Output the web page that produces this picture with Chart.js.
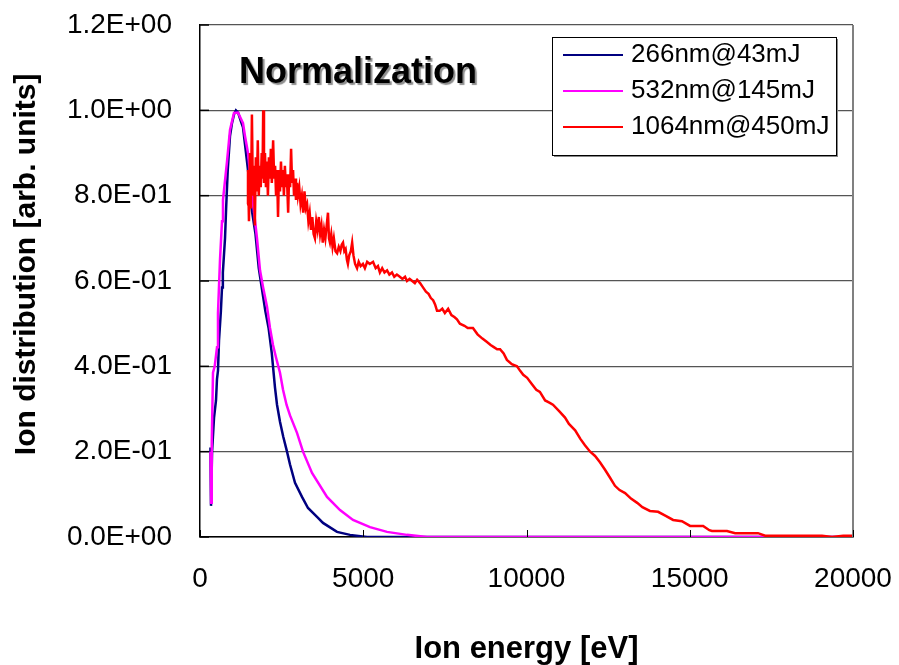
<!DOCTYPE html>
<html>
<head>
<meta charset="utf-8">
<script src="https://cdn.jsdelivr.net/npm/chart.js@4/dist/chart.umd.min.js"></script>
<style>
  html, body { margin: 0; padding: 0; background: #fff; }
  #wrap { width: 899px; height: 665px; }
</style>
</head>
<body>
<div id="wrap"><canvas id="c" width="899" height="665"></canvas></div>
<script>
// Ion energy [eV] and normalized ion distribution
const e266 = [320, 337, 370, 430, 490, 520, 551, 582, 640, 674, 700, 766, 800, 850, 919, 980, 1041, 1100, 1164, 1250, 1317, 1378, 1440, 1500, 1532, 1600, 1700, 1800, 1900, 2000, 2100, 2200, 2236, 2297, 2359, 2450, 2550, 2665, 2757, 2910, 3124, 3308, 3584, 3767, 4196, 4594, 5115, 20000];
const v266 = [0.21, 0.073, 0.20, 0.28, 0.32, 0.37, 0.39, 0.46, 0.53, 0.585, 0.62, 0.70, 0.77, 0.86, 0.94, 0.97, 0.99, 1.0, 0.995, 0.975, 0.96, 0.92, 0.88, 0.84, 0.80, 0.76, 0.71, 0.63, 0.58, 0.53, 0.49, 0.43, 0.40, 0.35, 0.31, 0.27, 0.235, 0.20, 0.17, 0.127, 0.094, 0.068, 0.047, 0.033, 0.012, 0.005, 0.0, 0.0];

const e532 = [320, 340, 360, 398, 450, 521, 551, 613, 674, 704, 827, 919, 1041, 1164, 1317, 1378, 1470, 1532, 1600, 1746, 1838, 1930, 2052, 2144, 2236, 2330, 2450, 2543, 2650, 2757, 2971, 3155, 3431, 3890, 4288, 4686, 5207, 5728, 6340, 6953, 20000];
const v532 = [0.20, 0.08, 0.22, 0.385, 0.40, 0.445, 0.525, 0.65, 0.74, 0.79, 0.88, 0.954, 0.994, 0.995, 0.97, 0.94, 0.90, 0.853, 0.80, 0.70, 0.625, 0.586, 0.54, 0.49, 0.45, 0.42, 0.385, 0.345, 0.31, 0.285, 0.244, 0.20, 0.15, 0.094, 0.063, 0.04, 0.023, 0.012, 0.005, 0.0, 0.0];

const e1064 = [1440, 1470, 1500, 1530, 1560, 1590, 1620, 1650, 1680, 1710, 1740, 1770, 1800, 1830, 1860, 1890, 1915, 1935, 1960, 1990,
  2020, 2050, 2080, 2110, 2140, 2170, 2200, 2240, 2270, 2300, 2330, 2360, 2390, 2420, 2450, 2480, 2510, 2540, 2570, 2600,
  2630, 2660, 2700, 2730, 2760, 2790, 2820, 2850, 2880, 2910, 2940, 2970, 3000, 3040, 3080, 3120, 3160, 3200, 3240, 3280,
  3320, 3360, 3400, 3440, 3480, 3520, 3560, 3600, 3640, 3680, 3720, 3760, 3800, 3840, 3880, 3920, 3950, 3980, 4020, 4060,
  4100, 4150, 4200, 4250, 4300, 4340, 4380, 4420, 4460, 4500, 4530, 4570, 4620, 4660, 4700, 4750, 4810, 4860, 4920, 4990,
  5050, 5120, 5200, 5300, 5380, 5450, 5510, 5580, 5650, 5730, 5800, 5880, 5950, 6030, 6120, 6200, 6280, 6340, 6420, 6500,
  6580, 6650, 6740, 6830, 6920, 7000, 7070, 7140, 7200, 7260, 7340, 7420, 7500, 7600, 7700, 7800, 7870, 7960, 8100, 8200,
  8360, 8500, 8650, 8790, 8900, 9000, 9100, 9190, 9300, 9400, 9550, 9710, 9800, 9900, 10020, 10150, 10300, 10410, 10570, 10700,
  10810, 11000, 11180, 11300, 11490, 11650, 11790, 11950, 12100, 12250, 12410, 12550, 12710, 12850, 13020, 13200, 13390, 13550, 13780, 14030,
  14250, 14490, 14760, 15010, 15410, 15600, 15680, 16140, 16390, 17090, 17310, 19050, 19360, 19700, 20000];
const v1064 = [0.78, 0.86, 0.74, 0.90, 0.77, 0.99, 0.80, 0.87, 0.73, 0.89, 0.81, 0.93, 0.80, 0.87, 0.82, 0.90, 0.84, 1.0, 0.83, 0.90,
  0.82, 0.88, 0.80, 0.89, 0.84, 0.91, 0.83, 0.93, 0.84, 0.87, 0.80, 0.86, 0.75, 0.86, 0.81, 0.88, 0.82, 0.86, 0.80, 0.87,
  0.82, 0.85, 0.76, 0.85, 0.82, 0.91, 0.83, 0.86, 0.80, 0.84, 0.79, 0.83, 0.80, 0.82, 0.78, 0.80, 0.76, 0.81, 0.77, 0.78,
  0.74, 0.76, 0.72, 0.75, 0.71, 0.70, 0.74, 0.72, 0.75, 0.71, 0.73, 0.69, 0.72, 0.70, 0.73, 0.76, 0.70, 0.69, 0.71, 0.68,
  0.70, 0.67, 0.665, 0.68, 0.67, 0.685, 0.69, 0.67, 0.675, 0.65, 0.64, 0.66, 0.67, 0.69, 0.66, 0.64, 0.63, 0.645, 0.635, 0.64,
  0.63, 0.645, 0.64, 0.645, 0.63, 0.635, 0.62, 0.63, 0.62, 0.625, 0.615, 0.62, 0.61, 0.615, 0.61, 0.605, 0.61, 0.60, 0.605, 0.60,
  0.595, 0.603, 0.595, 0.585, 0.575, 0.57, 0.56, 0.555, 0.545, 0.53, 0.53, 0.535, 0.525, 0.535, 0.52, 0.515, 0.51, 0.50, 0.495, 0.49,
  0.49, 0.475, 0.465, 0.457, 0.45, 0.445, 0.44, 0.44, 0.43, 0.415, 0.405, 0.40, 0.39, 0.38, 0.373, 0.36, 0.345, 0.34, 0.32, 0.315,
  0.31, 0.295, 0.28, 0.265, 0.25, 0.23, 0.215, 0.20, 0.19, 0.175, 0.157, 0.14, 0.12, 0.11, 0.103, 0.09, 0.08, 0.07, 0.061, 0.059,
  0.05, 0.04, 0.037, 0.026, 0.026, 0.016, 0.014, 0.014, 0.009, 0.009, 0.003, 0.003, 0.0, 0.003, 0.003];

const seriesNames = ['266nm@43mJ', '532nm@145mJ', '1064nm@450mJ'];
const seriesColors = ['#000080', '#ff00ff', '#ff0000'];
const xTicks = [0, 5000, 10000, 15000, 20000];
const yTicks = [0, 0.2, 0.4, 0.6, 0.8, 1.0, 1.2];

const FONT = '"Liberation Sans", Arial, sans-serif';

function pts(xs, ys) {
  return xs.map((x, i) => ({ x: x, y: ys[i] }));
}

function sci(v) {
  if (Math.abs(v) < 1e-9) return '0.0E+00';
  let exp = Math.floor(Math.log10(Math.abs(v)) + 1e-9);
  let mant = v / Math.pow(10, exp);
  let sign = exp < 0 ? '-' : '+';
  let e = String(Math.abs(exp)).padStart(2, '0');
  return mant.toFixed(1) + 'E' + sign + e;
}

// frame, inner tick marks, title text and boxed legend
const decor = {
  id: 'decor',
  afterDatasetsDraw(chart) {
    const ctx = chart.ctx;
    const a = chart.chartArea;
    const xs = chart.scales.x, ys = chart.scales.y;
    ctx.save();
    // right border
    ctx.strokeStyle = '#808080';
    ctx.lineWidth = 2;
    ctx.beginPath();
    ctx.moveTo(a.right, a.top);
    ctx.lineTo(a.right, a.bottom);
    ctx.stroke();
    // small inner ticks
    ctx.strokeStyle = '#000';
    ctx.lineWidth = 1;
    xTicks.forEach(t => {
      const px = Math.round(xs.getPixelForValue(t)) + 0.5;
      ctx.beginPath();
      ctx.moveTo(px, a.bottom);
      ctx.lineTo(px, a.bottom - 7);
      ctx.stroke();
    });
    ctx.lineWidth = 1.5;
    yTicks.forEach(t => {
      const py = ys.getPixelForValue(t);
      ctx.beginPath();
      ctx.moveTo(a.left, py);
      ctx.lineTo(a.left + 9, py);
      ctx.stroke();
    });
    ctx.restore();
  },
  afterDraw(chart) {
    const ctx = chart.ctx;
    const a = chart.chartArea;
    ctx.save();
    // "Normalization" label
    ctx.font = 'bold 36px ' + FONT;
    ctx.textBaseline = 'middle';
    ctx.textAlign = 'left';
    ctx.shadowColor = 'rgba(0,0,0,0.45)';
    ctx.shadowOffsetX = 2;
    ctx.shadowOffsetY = 2;
    ctx.shadowBlur = 1;
    ctx.fillStyle = '#000';
    ctx.fillText('Normalization', a.left + 39, a.top + 48);
    ctx.restore();

    // legend box
    ctx.save();
    const bx = a.left + 352, by = a.top + 12, bw = 284, bh = 118;
    ctx.fillStyle = '#888';
    ctx.fillRect(bx + 2, by + 2, bw, bh);
    ctx.fillStyle = '#fff';
    ctx.fillRect(bx, by, bw, bh);
    ctx.strokeStyle = '#000';
    ctx.lineWidth = 1;
    ctx.strokeRect(bx + 0.5, by + 0.5, bw, bh);
    ctx.font = '26px ' + FONT;
    ctx.textBaseline = 'middle';
    chart.data.datasets.forEach((ds, i) => {
      const ry = by + 18 + i * 36;
      ctx.strokeStyle = ds.borderColor;
      ctx.lineWidth = 2;
      ctx.beginPath();
      ctx.moveTo(bx + 11, ry);
      ctx.lineTo(bx + 71, ry);
      ctx.stroke();
      ctx.fillStyle = '#000';
      ctx.fillText(ds.label, bx + 79, ry);
    });
    ctx.restore();
  }
};

const ctx = document.getElementById('c').getContext('2d');
new Chart(ctx, {
  type: 'line',
  data: {
    datasets: [
      { label: seriesNames[0], data: pts(e266, v266), borderColor: seriesColors[0], order: 2 },
      { label: seriesNames[1], data: pts(e532, v532), borderColor: seriesColors[1], order: 1 },
      { label: seriesNames[2], data: pts(e1064, v1064), borderColor: seriesColors[2], order: 0 }
    ]
  },
  options: {
    responsive: false,
    animation: false,
    layout: { padding: { top: 25, right: 46, left: 0, bottom: 0 } },
    elements: {
      line: { borderWidth: 2.5, tension: 0, fill: false },
      point: { radius: 0 }
    },
    plugins: {
      legend: { display: false },
      tooltip: { enabled: false }
    },
    scales: {
      x: {
        type: 'linear',
        min: 0,
        max: 20000,
        afterFit: s => { s.height = 128; s.paddingLeft = 0; s.paddingRight = 0; },
        afterBuildTicks: s => { s.ticks = xTicks.map(v => ({ value: v })); },
        ticks: {
          color: '#000',
          font: { family: FONT, size: 28 },
          padding: 25,
          maxRotation: 0,
          callback: v => String(v)
        },
        grid: { drawOnChartArea: false, drawTicks: false },
        border: { color: '#000', width: 1.5 },
        title: {
          display: true,
          text: 'Ion energy [eV]',
          color: '#000',
          font: { family: FONT, size: 31, weight: 'bold', lineHeight: 1 },
          padding: { top: 0, bottom: 0 }
        }
      },
      y: {
        min: 0,
        max: 1.2,
        afterFit: s => { s.width = 200; s.paddingTop = 0; s.paddingBottom = 0; },
        afterBuildTicks: s => { s.ticks = yTicks.map(v => ({ value: v })); },
        ticks: {
          color: '#000',
          font: { family: FONT, size: 28 },
          padding: 28,
          callback: v => sci(v)
        },
        grid: {
          drawTicks: false,
          color: '#555',
          lineWidth: 1.3
        },
        border: { color: '#000', width: 1.5 },
        title: {
          display: true,
          text: '    Ion distribution [arb. units]',
          color: '#000',
          font: { family: FONT, size: 30, weight: 'bold', lineHeight: 1 },
          padding: { top: 12, bottom: 0 }
        }
      }
    }
  },
  plugins: [decor]
});
</script>
</body>
</html>
